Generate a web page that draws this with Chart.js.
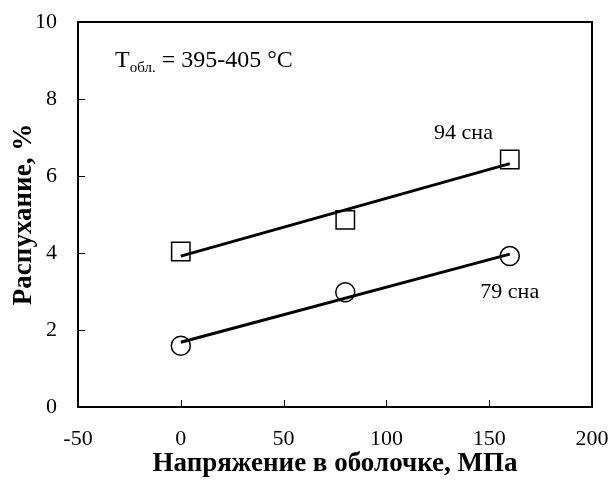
<!DOCTYPE html>
<html>
<head>
<meta charset="utf-8">
<script src="https://cdn.jsdelivr.net/npm/chart.js@4.4.0/dist/chart.umd.min.js"></script>
<style>
    html, body { margin: 0; padding: 0; background: #ffffff; }
    #wrap { width: 611px; height: 488px; }
</style>
</head>
<body>
<div id="wrap"><canvas id="chart" width="611" height="488"></canvas></div>
<script>
// Data
const STRESS = [0, 80, 160];                 // МПа
const SWELL_94 = [4.04, 4.86, 6.43];         // 94 сна, squares
const SWELL_79 = [1.59, 2.98, 3.92];         // 79 сна, circles
const TREND_X = [0, 160];
const TREND_94 = [3.92, 6.32];
const TREND_79 = [1.68, 3.97];

const X_TICKS = [-50, 0, 50, 100, 150, 200];
const Y_TICKS = [0, 2, 4, 6, 8, 10];

// Labels placed in data coordinates
const LABEL_94 = { x: 137.5, y: 7.12, text: '94 сна' };
const LABEL_79 = { x: 160, y: 2.99, text: '79 сна' };
const LABEL_T = { x: -32, y: 8.83, main: 'T', sub: 'обл.', rest: ' = 395-405 °C' };

const FONT = '"Liberation Serif", "Times New Roman", serif';
const BLACK = '#000000';

function toPoints(xs, ys) {
    return xs.map((x, i) => ({ x: x, y: ys[i] }));
}

// keep the plot box fixed: drop the extra room Chart.js reserves for end labels
function noEdgePadding(s) {
    s.paddingLeft = 0;
    s.paddingRight = 0;
    s.paddingTop = 0;
    s.paddingBottom = 0;
}

// Frame, inner tick marks and text annotations
const framePlugin = {
    id: 'frame',
    afterDraw(chart) {
        const ctx = chart.ctx;
        const area = chart.chartArea;
        const xs = chart.scales.x;
        const ys = chart.scales.y;
        ctx.save();
        ctx.strokeStyle = BLACK;
        ctx.lineWidth = 2;
        ctx.strokeRect(area.left, area.top, area.right - area.left, area.bottom - area.top);

        ctx.lineWidth = 1;
        ctx.beginPath();
        Y_TICKS.forEach(v => {
            const py = Math.round(ys.getPixelForValue(v)) + 0.5;
            ctx.moveTo(area.left, py);
            ctx.lineTo(area.left + 7, py);
        });
        X_TICKS.forEach(v => {
            const px = Math.round(xs.getPixelForValue(v)) + 0.5;
            ctx.moveTo(px, area.bottom);
            ctx.lineTo(px, area.bottom - 7);
        });
        ctx.stroke();

        ctx.fillStyle = BLACK;
        ctx.font = '22px ' + FONT;
        ctx.textBaseline = 'middle';
        ctx.textAlign = 'center';
        ctx.fillText(LABEL_94.text, xs.getPixelForValue(LABEL_94.x), ys.getPixelForValue(LABEL_94.y));
        ctx.fillText(LABEL_79.text, xs.getPixelForValue(LABEL_79.x), ys.getPixelForValue(LABEL_79.y));

        // T with subscript
        ctx.textAlign = 'left';
        ctx.textBaseline = 'alphabetic';
        let tx = xs.getPixelForValue(LABEL_T.x);
        const ty = ys.getPixelForValue(LABEL_T.y);
        ctx.font = '24px ' + FONT;
        ctx.fillText(LABEL_T.main, tx, ty);
        tx += ctx.measureText(LABEL_T.main).width;
        ctx.font = '15px ' + FONT;
        ctx.fillText(LABEL_T.sub, tx, ty + 5);
        tx += ctx.measureText(LABEL_T.sub).width;
        ctx.font = '24px ' + FONT;
        ctx.fillText(LABEL_T.rest, tx, ty);
        ctx.restore();
    }
};

const ctx = document.getElementById('chart').getContext('2d');

new Chart(ctx, {
    type: 'scatter',
    data: {
        datasets: [
            {
                type: 'line',
                data: toPoints(TREND_X, TREND_94),
                borderColor: BLACK,
                borderWidth: 3,
                pointRadius: 0,
                fill: false,
                tension: 0
            },
            {
                type: 'line',
                data: toPoints(TREND_X, TREND_79),
                borderColor: BLACK,
                borderWidth: 3,
                pointRadius: 0,
                fill: false,
                tension: 0
            },
            {
                data: toPoints(STRESS, SWELL_94),
                pointStyle: 'rect',
                pointRadius: 13,
                pointBorderWidth: 1.5,
                borderColor: BLACK,
                backgroundColor: 'rgba(0,0,0,0)'
            },
            {
                data: toPoints(STRESS, SWELL_79),
                pointStyle: 'circle',
                pointRadius: 9.5,
                pointBorderWidth: 1.5,
                borderColor: BLACK,
                backgroundColor: 'rgba(0,0,0,0)'
            }
        ]
    },
    options: {
        responsive: false,
        animation: false,
        events: [],
        layout: {
            padding: { top: 22, right: 19, left: 0, bottom: 0 }
        },
        plugins: {
            legend: { display: false },
            tooltip: { enabled: false }
        },
        scales: {
            x: {
                type: 'linear',
                min: -50,
                max: 200,
                afterBuildTicks: s => { s.ticks = X_TICKS.map(v => ({ value: v })); },
                afterFit: s => { s.height = 81; noEdgePadding(s); },
                grid: { display: false, drawTicks: false },
                border: { display: false },
                ticks: {
                    color: BLACK,
                    padding: 19,
                    font: { family: FONT, size: 22 }
                },
                title: {
                    display: true,
                    text: 'Напряжение в оболочке, МПа',
                    color: BLACK,
                    padding: { top: 0, bottom: 8 },
                    font: { family: FONT, size: 27, weight: 'bold' }
                }
            },
            y: {
                type: 'linear',
                min: 0,
                max: 10,
                afterBuildTicks: s => { s.ticks = Y_TICKS.map(v => ({ value: v })); },
                afterFit: s => { s.width = 78; noEdgePadding(s); },
                grid: { display: false, drawTicks: false },
                border: { display: false },
                ticks: {
                    color: BLACK,
                    padding: 21,
                    font: { family: FONT, size: 22 }
                },
                title: {
                    display: true,
                    text: 'Распухание, %',
                    color: BLACK,
                    padding: { top: 8, bottom: 0 },
                    font: { family: FONT, size: 27, weight: 'bold' }
                }
            }
        }
    },
    plugins: [framePlugin]
});
</script>
</body>
</html>
